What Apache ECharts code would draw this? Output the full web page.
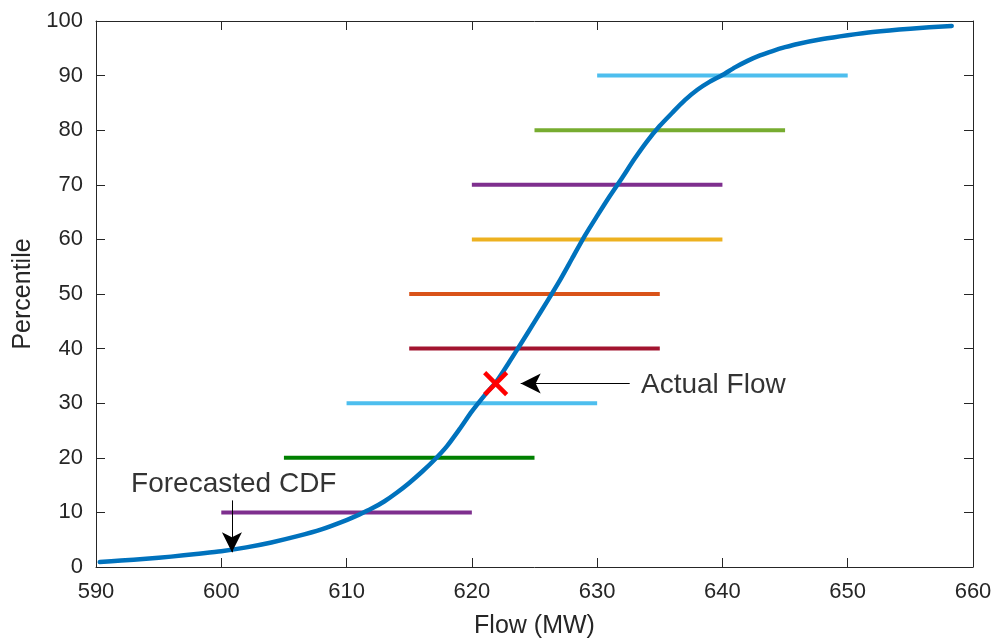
<!DOCTYPE html>
<html><head><meta charset="utf-8">
<script src="https://cdn.jsdelivr.net/npm/echarts@6/dist/echarts.min.js"></script>
<style>html,body{margin:0;padding:0;background:#fff}#c{width:998px;height:644px}</style>
</head><body><div id="c"></div>
<script>
// ---- data ----
const cdfFlow = [590.3,592,594,596,598,600,602,604,606,608,610,611,612,613,614,615,616,617,618,619,620,621,622,623,624,625,626,627,628,629,630,631,632,633,634,635,636,637,638,639,640,641,642,643,644,645,646,648,650,652,655,658.3];
const cdfPercentile = [0.9,1.2,1.5,1.9,2.4,2.9,3.6,4.5,5.6,6.9,8.6,9.6,10.7,12.0,13.6,15.4,17.4,19.6,22.1,25.2,28.5,31.4,34.1,37.6,41.2,44.9,48.6,52.4,56.5,60.6,64.3,67.9,71.3,74.8,78.0,80.8,83.2,85.5,87.4,88.9,90.1,91.5,92.7,93.7,94.5,95.2,95.8,96.7,97.4,98.0,98.6,99.1];
const bandPercentile = [10,20,30,40,50,60,70,80,90];
const bandLow = [600,605,610,615,615,620,620,625,630];
const bandHigh = [620,625,630,635,635,640,640,645,650];
const actualFlowPoint = [621.9, 33.6];
const actualArrow = [[632.6, 33.6],[623.9, 33.6]];
const forecastArrow = [[600.85, 12.2],[600.85, 2.7]];
const actualLabelPos = [633.5, 33.2];
const forecastLabelPos = [592.8, 15.2];
const xMin = 590, xMax = 660, xStep = 10;
const yMin = 0, yMax = 100, yStep = 10;

// ---- styles ----
const bandColors = ['#7E2F8E','#008000','#4DBEEE','#A2142F','#D95319','#EDB120','#7E2F8E','#77AC30','#4DBEEE'];
const FONT = "'Liberation Sans', Arial, Helvetica, sans-serif";
const AX = '#262626';

const chart = echarts.init(document.getElementById('c'), null, {renderer:'canvas'});

const bandSeries = bandPercentile.map((p, i) => ({
  type: 'line',
  xAxisIndex: 0, yAxisIndex: 0,
  data: [[bandLow[i], p], [bandHigh[i], p]],
  symbol: 'none',
  lineStyle: {color: bandColors[i], width: 4},
  z: 2,
  silent: true
}));

const axisCommon = {
  axisLine: {show: true, onZero: false, lineStyle: {color: AX, width: 1}},
  axisTick: {show: true, inside: true, length: 9, lineStyle: {color: AX, width: 1}},
  splitLine: {show: false}
};

const option = {
  animation: false,
  backgroundColor: '#fff',
  grid: {left: 96, right: 25, top: 21, bottom: 75},
  xAxis: [
    Object.assign({
      type: 'value', min: xMin, max: xMax, interval: xStep, position: 'bottom',
      name: 'Flow (MW)', nameLocation: 'middle', nameGap: 47,
      nameTextStyle: {fontFamily: FONT, fontSize: 25, color: AX},
      axisLabel: {fontFamily: FONT, fontSize: 22, color: AX, margin: 14}
    }, axisCommon),
    Object.assign({
      type: 'value', min: xMin, max: xMax, interval: xStep, position: 'top',
      axisLabel: {show: false}
    }, axisCommon)
  ],
  yAxis: [
    Object.assign({
      type: 'value', min: yMin, max: yMax, interval: yStep, position: 'left',
      name: 'Percentile', nameLocation: 'middle', nameGap: 59,
      nameTextStyle: {fontFamily: FONT, fontSize: 25, color: AX},
      axisLabel: {fontFamily: FONT, fontSize: 22, color: AX, margin: 13}
    }, axisCommon),
    Object.assign({
      type: 'value', min: yMin, max: yMax, interval: yStep, position: 'right',
      axisLabel: {show: false}
    }, axisCommon)
  ],
  series: [
    ...bandSeries,
    {
      type: 'line',
      xAxisIndex: 0, yAxisIndex: 0,
      data: cdfFlow.map((f, i) => [f, cdfPercentile[i]]),
      symbol: 'none',
      smooth: 0.25,
      lineStyle: {color: '#0072BD', width: 4.5, join: 'round', cap: 'round'},
      z: 3,
      silent: true
    },
    {
      type: 'custom',
      xAxisIndex: 0, yAxisIndex: 0,
      data: [actualFlowPoint],
      z: 5,
      renderItem: function (params, api) {
        const p = api.coord([api.value(0), api.value(1)]);
        const h = 11;
        const st = {stroke: '#FF0000', lineWidth: 4.5};
        return {type: 'group', children: [
          {type: 'line', shape: {x1: p[0]-h, y1: p[1]-h, x2: p[0]+h, y2: p[1]+h}, style: st},
          {type: 'line', shape: {x1: p[0]-h, y1: p[1]+h, x2: p[0]+h, y2: p[1]-h}, style: st}
        ]};
      },
      silent: true
    },
    {
      type: 'line',
      xAxisIndex: 0, yAxisIndex: 0,
      data: [],
      z: 6,
      markLine: {
        silent: true,
        animation: false,
        symbol: ['none', 'arrow'],
        symbolSize: [15, 20],
        label: {show: false},
        lineStyle: {color: '#000', width: 1, type: 'solid'},
        emphasis: {disabled: true},
        data: [
          [{coord: actualArrow[0]}, {coord: actualArrow[1]}],
          [{coord: forecastArrow[0]}, {coord: forecastArrow[1]}]
        ]
      }
    },
    {
      type: 'scatter',
      xAxisIndex: 0, yAxisIndex: 0,
      symbolSize: 0,
      z: 7,
      silent: true,
      data: [
        {value: actualLabelPos, name: 'Actual Flow'},
        {value: forecastLabelPos, name: 'Forecasted CDF'}
      ],
      label: {
        show: true,
        position: [0, 0],
        align: 'left',
        verticalAlign: 'middle',
        formatter: '{b}',
        fontFamily: FONT,
        fontSize: 28,
        color: '#000'
      }
    }
  ]
};
chart.setOption(option);
</script>
</body></html>
